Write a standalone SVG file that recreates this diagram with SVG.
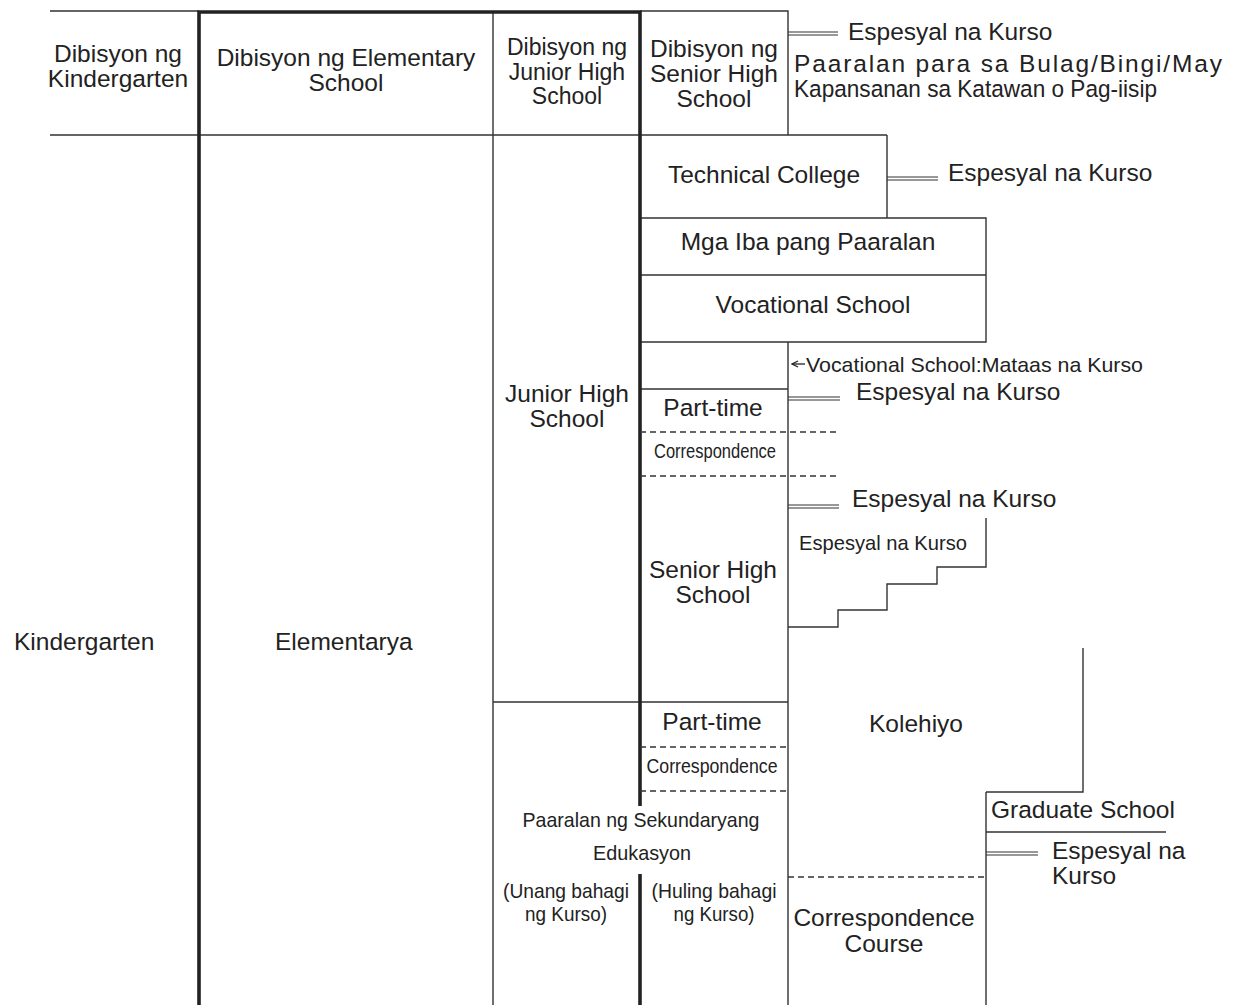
<svg xmlns="http://www.w3.org/2000/svg" width="1234" height="1005" viewBox="0 0 1234 1005">
<style>
text{font-family:"Liberation Sans",Arial,sans-serif;font-size:24.5px;fill:#222}
.c{text-anchor:middle}
.n{font-family:"Liberation Sans Narrow","Liberation Sans",Arial,sans-serif;font-size:21px}
.ln{stroke:#333;stroke-width:1.4;fill:none}
.thk{stroke:#222;stroke-width:3.6;fill:none}
.dash{stroke:#333;stroke-width:1.3;stroke-dasharray:6 4;fill:none}
.dbl{stroke:#333;stroke-width:1.1;fill:none}
</style>
<defs>
<marker id="ah" markerWidth="8" markerHeight="8" refX="7" refY="4" orient="auto" markerUnits="userSpaceOnUse">
<path d="M1,1 L7,4 L1,7" fill="none" stroke="#222" stroke-width="1.2"/>
</marker>
</defs>
<rect width="1234" height="1005" fill="#fff"/>

<g id="frame">
<path class="ln" d="M50,11H199M50,135H887M493,11V1005M640,11H788V135M887,135V218M640,218H986V342H640M640,275H986M788,342V1005M640,389H788M493,702H788M986,792V1005M986,792H1083V648M986,832H1166"/>
<path class="thk" d="M199,1005V12H640V806M640,874V1005"/>
<path class="dash" d="M640,432H838M640,476H838M640,747H788M640,791H788M788,877H986"/>
</g>

<g id="connectors">
<path class="dbl" d="M788,32H838M788,35H838"/>
<path class="dbl" d="M887,177H938M887,180H938"/>
<path class="dbl" d="M788,397H840M788,400H840"/>
<path class="dbl" d="M788,505H839M788,508H839"/>
<path class="dbl" d="M986,852H1038M986,855H1038"/>
<path class="ln" d="M788,627H838V610H887V584H937V567H986V518"/>
<line class="ln" x1="805" y1="364" x2="792" y2="364" stroke-width="1.1" marker-end="url(#ah)"/>
</g>

<g id="hdr-kinder"><text class="c" x="118" y="62">Dibisyon ng</text><text class="c" x="118" y="87">Kindergarten</text></g>
<g id="hdr-elem"><text class="c" x="346" y="66">Dibisyon ng Elementary</text><text class="c" x="346" y="91">School</text></g>
<g id="hdr-jhs" font-size="23"><text class="c" x="567" y="55" style="font-size:23px">Dibisyon ng</text><text class="c" x="567" y="79.5" style="font-size:23px">Junior High</text><text class="c" x="567" y="104" style="font-size:23px">School</text></g>
<g id="hdr-shs"><text class="c" x="714" y="57">Dibisyon ng</text><text class="c" x="714" y="82">Senior High</text><text class="c" x="714" y="107">School</text></g>
<g id="esp-top"><text x="848" y="40">Espesyal na Kurso</text></g>
<g id="special-school"><text x="794" y="72" textLength="428" lengthAdjust="spacing">Paaralan para sa Bulag/Bingi/May</text><text x="794" y="97" textLength="363" lengthAdjust="spacingAndGlyphs">Kapansanan sa Katawan o Pag-iisip</text></g>

<g id="technical-college"><text class="c" x="764" y="183">Technical College</text></g>
<g id="esp-tech"><text x="948" y="181">Espesyal na Kurso</text></g>
<g id="mga-iba"><text class="c" x="808" y="250">Mga Iba pang Paaralan</text></g>
<g id="vocational"><text class="c" x="813" y="313">Vocational School</text></g>
<g id="voc-higher"><text class="n" x="806" y="372" textLength="337" lengthAdjust="spacingAndGlyphs">Vocational School:Mataas na Kurso</text></g>
<g id="esp-parttime"><text x="856" y="400">Espesyal na Kurso</text></g>
<g id="parttime-1"><text class="c" x="713" y="416">Part-time</text></g>
<g id="corr-1"><text class="n c" x="715" y="458" font-size="19" textLength="122" lengthAdjust="spacingAndGlyphs">Correspondence</text></g>
<g id="esp-shs"><text x="852" y="507">Espesyal na Kurso</text></g>
<g id="esp-shs-small"><text class="n" x="799" y="550" textLength="168" lengthAdjust="spacingAndGlyphs">Espesyal na Kurso</text></g>
<g id="jhs"><text class="c" x="567" y="402">Junior High</text><text class="c" x="567" y="427">School</text></g>
<g id="shs"><text class="c" x="713" y="578">Senior High</text><text class="c" x="713" y="603">School</text></g>
<g id="kindergarten"><text x="14" y="650">Kindergarten</text></g>
<g id="elementarya"><text x="275" y="650">Elementarya</text></g>
<g id="kolehiyo"><text x="869" y="732">Kolehiyo</text></g>
<g id="parttime-2"><text class="c" x="712" y="730">Part-time</text></g>
<g id="corr-2"><text class="n c" x="712" y="773" font-size="19" textLength="131" lengthAdjust="spacingAndGlyphs">Correspondence</text></g>
<g id="secondary"><text class="n c" x="641" y="827" textLength="237" lengthAdjust="spacingAndGlyphs">Paaralan ng Sekundaryang</text><text class="n c" x="642" y="860" textLength="98" lengthAdjust="spacingAndGlyphs">Edukasyon</text>
<text class="n c" x="566" y="898" textLength="126" lengthAdjust="spacingAndGlyphs">(Unang bahagi</text><text class="n c" x="566" y="921" textLength="82" lengthAdjust="spacingAndGlyphs">ng Kurso)</text>
<text class="n c" x="714" y="898" textLength="125" lengthAdjust="spacingAndGlyphs">(Huling bahagi</text><text class="n c" x="714" y="921" textLength="81" lengthAdjust="spacingAndGlyphs">ng Kurso)</text></g>
<g id="graduate"><text x="991" y="818">Graduate School</text></g>
<g id="esp-grad"><text x="1052" y="859">Espesyal na</text><text x="1052" y="884">Kurso</text></g>
<g id="corr-course"><text class="c" x="884" y="926">Correspondence</text><text class="c" x="884" y="952">Course</text></g>
</svg>
